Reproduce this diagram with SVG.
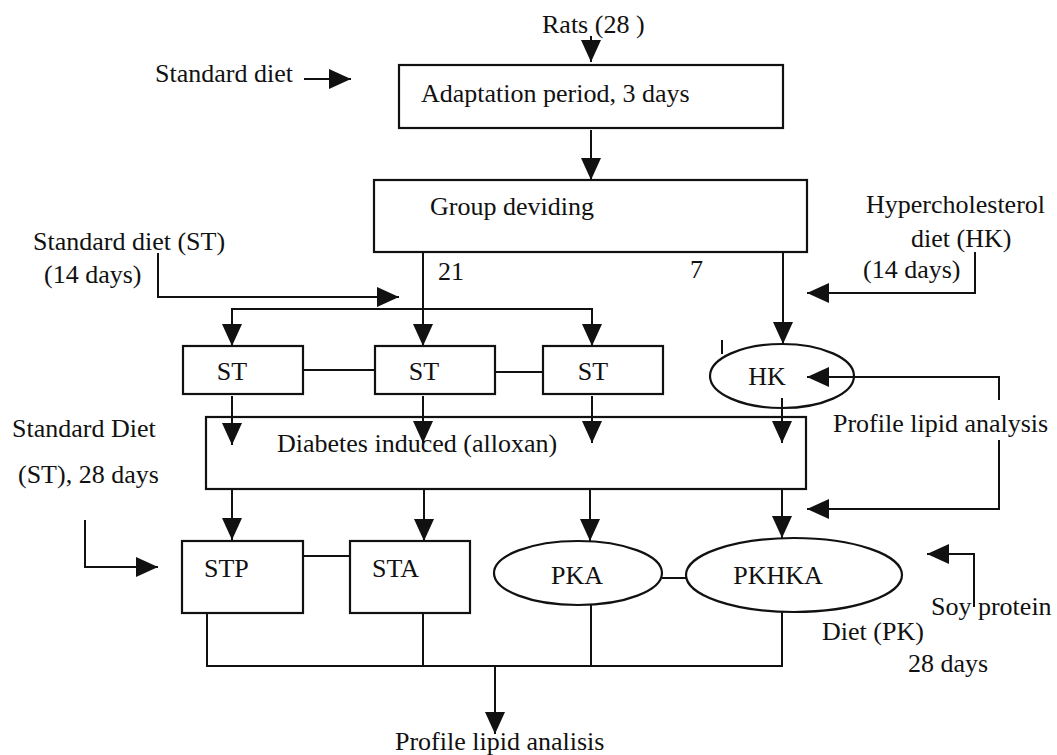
<svg xmlns="http://www.w3.org/2000/svg" width="1057" height="755" viewBox="0 0 1057 755">
<style>
text{font-family:'Liberation Serif','Times New Roman','DejaVu Serif',serif;font-size:26px;fill:#111}
.box{fill:none;stroke:#111;stroke-width:2.2}
.c{fill:none;stroke:#111;stroke-width:2}
.a{marker-end:url(#ah)}
.m{text-anchor:middle}
</style>
<defs>
<marker id="ah" viewBox="0 0 22 20" refX="22" refY="10" markerWidth="22" markerHeight="20" markerUnits="userSpaceOnUse" orient="auto">
<path d="M0,0 L22,10 L0,20 z" fill="#111"/>
</marker>
</defs>
<rect width="1057" height="755" fill="#fff"/>

<g id="labels">
<text x="542" y="33">Rats (28 )</text>
<text x="155" y="82">Standard diet</text>
<text x="33" y="250">Standard diet (ST)</text>
<text x="44" y="283">(14 days)</text>
<text x="438" y="280">21</text>
<text x="690" y="278">7</text>
<text x="866" y="213">Hypercholesterol</text>
<text x="911" y="247">diet (HK)</text>
<text x="863" y="278">(14 days)</text>
<text x="833" y="432">Profile lipid analysis</text>
<text x="12" y="437">Standard Diet</text>
<text x="18" y="483">(ST), 28 days</text>
<text x="931" y="615">Soy protein</text>
<text x="822" y="640">Diet (PK)</text>
<text x="908" y="672">28 days</text>
<text x="395" y="750">Profile lipid analisis</text>
</g>

<g id="adaptation">
<rect class="box" x="399" y="65" width="384" height="63"/>
<text x="421" y="102">Adaptation period, 3 days</text>
</g>
<g id="group">
<rect class="box" x="374" y="180" width="433" height="72"/>
<text x="430" y="215">Group deviding</text>
</g>
<g id="st1">
<rect class="box" x="183" y="346" width="120" height="48"/>
<text class="m" x="232" y="380">ST</text>
</g>
<g id="st2">
<rect class="box" x="375" y="346" width="120" height="48"/>
<text class="m" x="424" y="380">ST</text>
</g>
<g id="st3">
<rect class="box" x="543" y="346" width="120" height="48"/>
<text class="m" x="593" y="380">ST</text>
</g>
<g id="hk">
<ellipse class="box" cx="782" cy="376" rx="72" ry="32"/>
<text class="m" x="767" y="385">HK</text>
</g>
<g id="diabetes">
<rect class="box" x="206" y="417" width="600" height="72"/>
<text x="277" y="452">Diabetes induced (alloxan)</text>
</g>
<g id="stp">
<rect class="box" x="182" y="541" width="121" height="72"/>
<text x="204" y="577">STP</text>
</g>
<g id="sta">
<rect class="box" x="350" y="541" width="120" height="72"/>
<text x="372" y="577">STA</text>
</g>
<g id="pka">
<ellipse class="box" cx="578" cy="573" rx="84" ry="32"/>
<text class="m" x="577" y="584">PKA</text>
</g>
<g id="pkhka">
<ellipse class="box" cx="794" cy="575" rx="108" ry="37"/>
<text class="m" x="778" y="584">PKHKA</text>
</g>

<g id="connectors">
<path class="c a" d="M591,36 V62"/>
<path class="c a" d="M304,79 H351"/>
<path class="c a" d="M591,130 V180"/>
<path class="c a" d="M158,253 V297 H399"/>
<path class="c a" d="M423,252 V346"/>
<path class="c a" d="M423,309 H232 V346"/>
<path class="c a" d="M423,309 H592 V346"/>
<path class="c a" d="M783,252 V344"/>
<path class="c a" d="M975,252 V293 H807"/>
<path class="c" d="M303,370 H375"/>
<path class="c" d="M495,372 H543"/>
<path class="c" d="M722,340 V354"/>
<path class="c a" d="M232,396 V445"/>
<path class="c a" d="M423,396 V443"/>
<path class="c a" d="M592,396 V443"/>
<path class="c a" d="M782,398 V443"/>
<path class="c a" d="M999,400 V377 H807"/>
<path class="c a" d="M999,440 V509 H807"/>
<path class="c a" d="M232,489 V540"/>
<path class="c a" d="M424,489 V541"/>
<path class="c a" d="M590,489 V541"/>
<path class="c a" d="M782,489 V538"/>
<path class="c a" d="M85,520 V567 H158"/>
<path class="c" d="M303,556 H350"/>
<path class="c" d="M662,578 H686"/>
<path class="c a" d="M974,607 V554 H927"/>
<path class="c" d="M207,613 V666 H782 V612"/>
<path class="c" d="M423,613 V666"/>
<path class="c" d="M591,605 V666"/>
<path class="c a" d="M495,666 V734"/>
</g>
</svg>
